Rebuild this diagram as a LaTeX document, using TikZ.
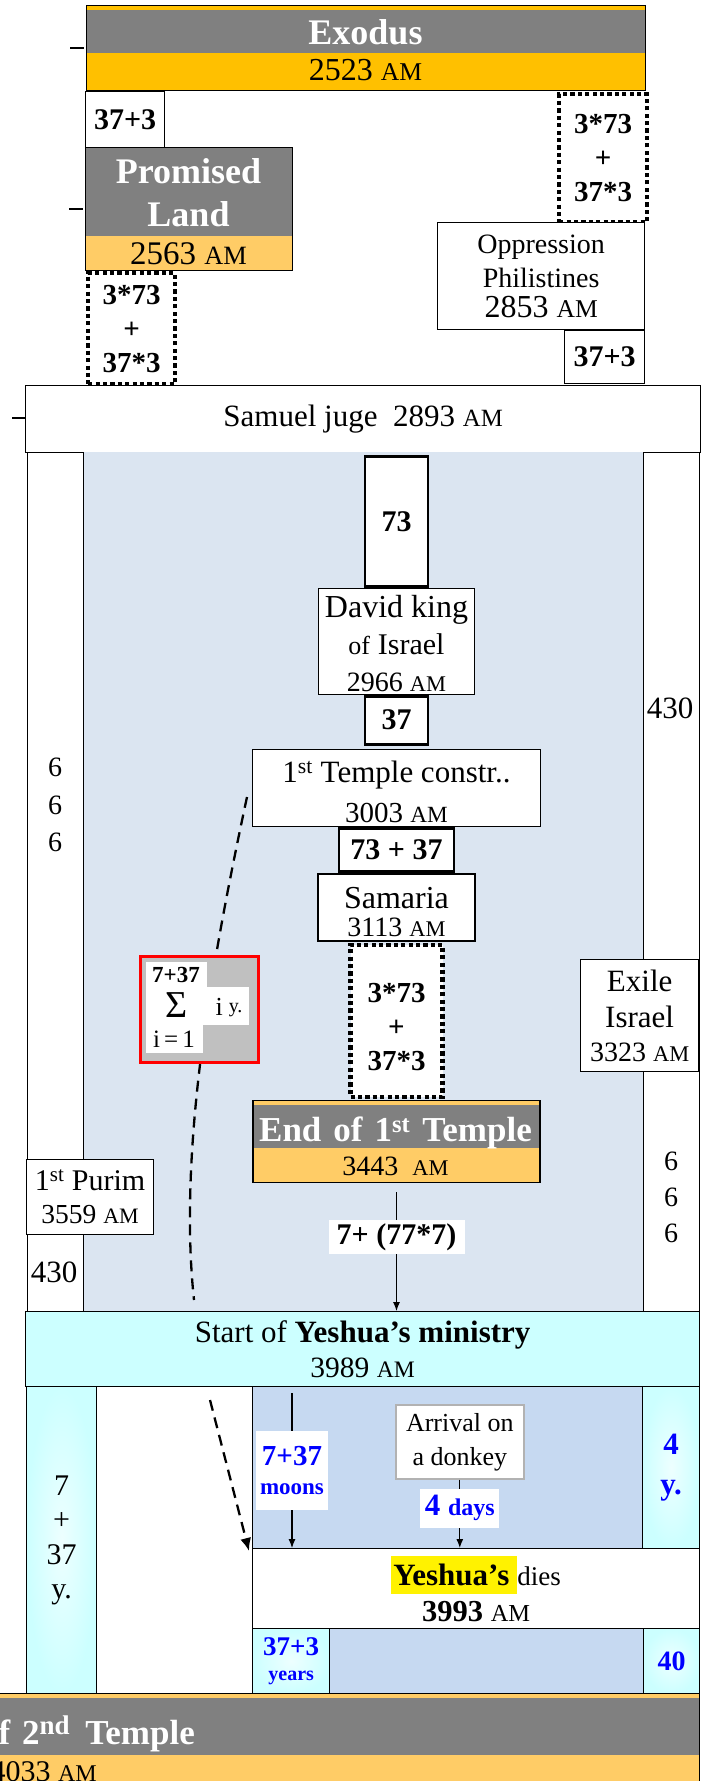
\documentclass[tikz,border=0pt]{standalone}
\usepackage{fontspec}
\setmainfont{Liberation Serif}
\usetikzlibrary{arrows.meta,positioning}
\definecolor{titlegray}{RGB}{128,128,128}
\definecolor{exgold}{RGB}{255,192,0}
\definecolor{lightgold}{RGB}{255,204,102}
\definecolor{paleblue}{RGB}{219,229,241}
\definecolor{midblue}{RGB}{198,217,241}
\definecolor{palecyan}{RGB}{204,255,255}
\definecolor{sumgray}{RGB}{192,192,192}
\definecolor{numblue}{RGB}{0,0,255}
\newcommand{\fsz}[2]{\fontsize{#1}{#2}\selectfont}
\newcommand{\AMs}{\scalebox{0.8}{AM}}
\newcommand{\ttl}[2][36]{\textcolor{white}{\fsz{#1}{40}\bfseries #2}}
\newcommand{\hl}[1]{{\setlength{\fboxsep}{0pt}\colorbox{yellow}{\rule[-9pt]{0pt}{38pt}\hspace{2pt}#1\hspace{8pt}}}}

\begin{document}
\begin{tikzpicture}[x=1pt, y=-1pt, font=\fsz{28}{34},
  box/.style={draw, line width=1.3pt, fill=white, inner sep=0pt, align=center, anchor=north west},
  wh/.style 2 args={minimum width=#1pt, minimum height=#2pt},
  numbox/.style={box, line width=2.6pt, font=\fsz{30}{34}\bfseries},
  dotbox/.style={box, line width=4.2pt, dash pattern=on 4.2pt off 3.2pt, font=\fsz{29}{34}\bfseries},
  titled/.style 2 args={path picture={\fill[titlegray] ([yshift=-#1]path picture bounding box.north west) rectangle ([yshift=#2]path picture bounding box.south east);}},
  cyanbox/.style={box, inner color=palecyan!35, outer color=palecyan},
  plain/.style={align=center, inner sep=0pt},
  lbl/.style={fill=white, inner sep=0pt, align=center},
  arr/.style={-{Latex[length=9pt,width=7pt]}, line width=1.1pt},
  dashline/.style={line width=2.3pt, dash pattern=on 11pt off 7pt}]
\useasboundingbox (0,0) rectangle (702,1781);
\clip (0,0) rectangle (702,1781);
% top: Exodus down to Samuel
\node[box, wh={559}{85}, fill=exgold, titled={4pt}{38pt}] (exodus) at (86,5) {};
\node[plain, anchor=base] (exodustitle) at (365.5,44) {\ttl{Exodus}};
\node[plain, anchor=base, font=\fsz{32}{34}] (exodusyear) at (365.5,80.5) {2523 \AMs};
\draw[line width=1.2pt] (70,48) -- (84,48);
\node[box, wh={79}{56}, font=\fsz{30}{34}\bfseries] (fortyA) at (85,91) {37+3};
\node[box, wh={207}{123}, fill=lightgold, titled={0pt}{35pt}] (promised) at (85,147) {};
\node[plain, anchor=base] (promisedA) at (188.5,183.5) {\ttl{Promised}};
\node[plain, anchor=base] (promisedB) at (188.5,226) {\ttl{Land}};
\node[plain, anchor=base, font=\fsz{33}{34}] (promisedyear) at (188.5,264) {2563 \AMs};
\draw[line width=1.2pt] (69,209) -- (83,209);
\node[dotbox, wh={87}{111}] (dotA) at (86,271) {3*73\\+\\37*3};
\node[dotbox, wh={88}{128}] (dotB) at (557,92) {3*73\\+\\37*3};
\node[box, wh={207}{107}] (oppress) at (437,222) {Oppression\\Philistines\\[-4pt]\fsz{32}{34}2853 \AMs};
\node[box, wh={80}{53}, font=\fsz{30}{34}\bfseries] (fortyB) at (564,330) {37+3};
\node[box, wh={675}{67}, font=\fsz{31}{34}] (samuel) at (25,385) {Samuel juge\ \ 2893 \AMs};
\draw[line width=1.2pt] (12,418) -- (25,418);
% side columns
\fill[paleblue] (83,452) rectangle (643,1311);
\node[box, wh={56}{859}] (leftcol) at (27,452) {};
\node[box, wh={56}{859}] (rightcol) at (643,452) {};
\node[plain, font=\fsz{28}{37.5}] (sixA) at (55,805) {6\\6\\6};
\node[plain, font=\fsz{31}{34}] (fourthirtyA) at (670,708) {430};
\node[plain, font=\fsz{28}{36}] (sixB) at (671,1197) {6\\6\\6};
\node[plain, font=\fsz{31}{34}] (fourthirtyB) at (54,1272) {430};
% central stack
\node[numbox, wh={63}{130}, anchor=north] (seventythree) at (396.5,455) {73};
\node[box, wh={156}{106}, below=0pt of seventythree, font=\fsz{31}{35}] (david)
  {\rule{0pt}{27pt}\fsz{32}{35}David king\\[2pt]{\fsz{26}{30}of} \fsz{30}{30}Israel\\[1.5pt]\fsz{28}{30}2966 \AMs};
\node[numbox, wh={63}{48}, below=0pt of david] (thirtyseven) {37};
\node[box, wh={288}{77}, below=3.5pt of thirtyseven, font=\fsz{31}{36}] (templecon)
  {\rule{0pt}{29.5pt}1\textsuperscript{st} Temple constr..\\[4pt]\fsz{29}{36}3003 \AMs};
\node[numbox, wh={115}{43}, below=0pt of templecon] (seventhree) {73 + 37};
\node[box, wh={157}{67}, below=0.5pt of seventhree, font=\fsz{32}{32}] (samaria)
  {\rule{0pt}{30pt}Samaria\\[-3.5pt]\fsz{28}{32}3113 \AMs};
\node[dotbox, wh={92}{152}, below=1pt of samaria] (dotC) {\rule{0pt}{31pt}3*73\\+\\37*3};
\node[box, wh={287}{82}, fill=lightgold, titled={4pt}{35pt}, below=1pt of dotC] (endfirst) {};
\node[plain, anchor=base] (endfirsttitle) at (395.5,1141.5)
  {\ttl[35]{End\hspace{12pt}of\hspace{12pt}1\textsuperscript{st}\hspace{12pt}Temple}};
\node[plain, anchor=base] (endfirstyear) at (395.5,1175) {3443\ \ \AMs};
\node[box, wh={118}{112}, font=\fsz{31}{34}] (exile) at (580,959)
  {Exile\\[2pt]Israel\\\fsz{28}{34}3323 \AMs};
\node[box, wh={127}{75}, font=\fsz{30}{33}] (purim) at (26,1159)
  {1\textsuperscript{st} Purim\\\fsz{27.5}{33}3559 \AMs};
% sum box on the dashed curve
\coordinate (curvestart) at (247,797);
\coordinate (curveend) at (194,1300);
\draw[dashline] (curvestart) .. controls (212,960) and (178,1150) .. (curveend);
\node[box, wh={118}{106}, draw=red, line width=3pt, fill=sumgray] (sumbox) at (139,955) {};
\fill[white] (146,962) rectangle (207,987);
\fill[white] (146,987) rectangle (249,1025);
\fill[white] (146,1025) rectangle (203,1053);
\node[plain, font=\fsz{23}{23}\bfseries] (sumtop) at (176,975) {7+37};
\node[plain, font=\fsz{38}{38}] (sumsign) at (176.5,1005) {Σ};
\node[plain, font=\fsz{26}{26}] (sumterm) at (229,1008) {i\hspace{6pt}\raisebox{3pt}{\fsz{20}{20}y.}};
\node[plain, font=\fsz{25}{25}] (sumbot) at (174,1039) {i\,=\,1};
% ministry and last years
\node[box, wh={674}{75}, fill=palecyan, font=\fsz{31}{35}] (ministry) at (25,1311)
  {Start of \textbf{Yeshua’s ministry}\\\fsz{29.5}{34}3989 \AMs};
\draw[arr] ([yshift=-9pt]endfirst.south) -- (endfirst.south |- ministry.north)
  node[lbl, pos=0.38, font=\fsz{30}{34}\bfseries, wh={136}{34}] (sevens) {7+ (77*7)};
\node[cyanbox, wh={70}{307}, font=\fsz{30}{34.5}] (sevenyears) at (26,1386) {7\\+\\37\\y.};
\node[box, wh={390}{162}, fill=midblue] (lastdays) at (252,1386) {};
\node[cyanbox, wh={57}{162}, text=numblue, font=\fsz{31}{40}\bfseries] (fouryears) at (642,1386) {4\\y.};
\node[box, wh={128}{74}, draw=gray!60, line width=1.6pt, font=\fsz{26}{34}] (donkey) at (395,1404)
  {Arrival on\\a donkey};
\node[box, wh={447}{80}, font=\fsz{31}{36}] (dies) at (252,1548)
  {\hl{\textbf{Yeshua’s}}\fsz{27}{36}dies\\\fsz{30.5}{36}\textbf{3993} \AMs};
\coordinate (moonstop) at (292,1393);
\draw[arr] (moonstop) -- (moonstop |- dies.north)
  node[lbl, midway, text=numblue, font=\fsz{29}{32}\bfseries, wh={72}{79}] (moons) {7+37\\[-3pt]\fsz{23}{32}moons};
\draw[arr] (donkey.south) -- (donkey.south |- dies.north)
  node[lbl, pos=0.42, text=numblue, font=\fsz{31}{34}\bfseries, wh={79}{39}] (days) {4 \fsz{24}{34}days};
\coordinate (dashstart) at (210,1400);
\draw[dashline, -{Latex[length=13pt,width=11pt]}] (dashstart) -- ([xshift=-3pt,yshift=-3pt]dies.north west);
\node[cyanbox, wh={77}{65}, text=numblue, font=\fsz{27}{27}\bfseries] (fortyC) at (252,1628)
  {37+3\\[-2pt]\fsz{20}{27}years};
\node[box, wh={314}{65}, fill=midblue] (lastrow) at (329,1628) {};
\node[cyanbox, wh={56}{65}, text=numblue, font=\fsz{28}{30}\bfseries] (forty) at (643,1628) {40};
\node[box, wh={1290}{102}, fill=lightgold, titled={4pt}{41pt}] (endsecond) at (-591,1693) {};
\node[plain, anchor=base east] (endsecondtitle) at (195,1744)
  {\ttl[35]{End\hspace{12pt}of\hspace{12pt}2\textsuperscript{\fsz{27}{27}nd}\hspace{15pt}Temple}};
\node[plain, anchor=base east, font=\fsz{30}{34}] (endsecondyear) at (97,1781) {4033 \AMs};
\end{tikzpicture}
\end{document}
